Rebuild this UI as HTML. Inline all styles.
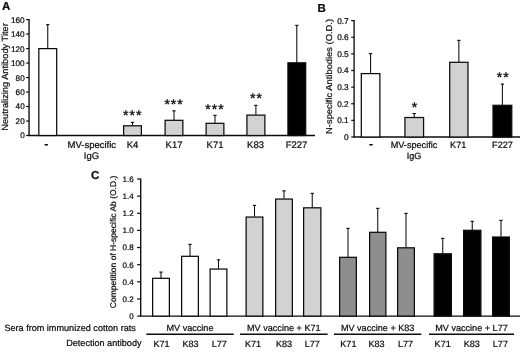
<!DOCTYPE html>
<html><head><meta charset="utf-8"><title>Figure</title>
<style>
html,body{margin:0;padding:0;background:#fff;}
body{width:520px;height:352px;overflow:hidden;font-family:"Liberation Sans",sans-serif;}
svg{display:block;will-change:transform;}
svg text{font-family:"Liberation Sans",sans-serif;fill:#0c0c0c;text-rendering:geometricPrecision;stroke:#0c0c0c;stroke-width:0.22px;}
svg text.st{stroke-width:0.4px;}
</style></head><body>
<svg width="520" height="352" viewBox="0 0 520 352">
<rect x="0" y="0" width="520" height="352" fill="#ffffff"/>
<line x1="29.05" y1="19.0" x2="29.05" y2="135.5" stroke="#0c0c0c" stroke-width="1.35"/>
<line x1="28.3" y1="135.5" x2="315" y2="135.5" stroke="#0c0c0c" stroke-width="1.35"/>
<line x1="26.150000000000002" y1="135.5" x2="29.05" y2="135.5" stroke="#0c0c0c" stroke-width="1.2"/>
<text x="24.7" y="138.45" text-anchor="end" font-size="8.2">0</text>
<line x1="26.150000000000002" y1="121.0125" x2="29.05" y2="121.0125" stroke="#0c0c0c" stroke-width="1.2"/>
<text x="24.7" y="123.9625" text-anchor="end" font-size="8.2">20</text>
<line x1="26.150000000000002" y1="106.525" x2="29.05" y2="106.525" stroke="#0c0c0c" stroke-width="1.2"/>
<text x="24.7" y="109.47500000000001" text-anchor="end" font-size="8.2">40</text>
<line x1="26.150000000000002" y1="92.0375" x2="29.05" y2="92.0375" stroke="#0c0c0c" stroke-width="1.2"/>
<text x="24.7" y="94.9875" text-anchor="end" font-size="8.2">60</text>
<line x1="26.150000000000002" y1="77.55" x2="29.05" y2="77.55" stroke="#0c0c0c" stroke-width="1.2"/>
<text x="24.7" y="80.5" text-anchor="end" font-size="8.2">80</text>
<line x1="26.150000000000002" y1="63.0625" x2="29.05" y2="63.0625" stroke="#0c0c0c" stroke-width="1.2"/>
<text x="24.7" y="66.0125" text-anchor="end" font-size="8.2">100</text>
<line x1="26.150000000000002" y1="48.57499999999999" x2="29.05" y2="48.57499999999999" stroke="#0c0c0c" stroke-width="1.2"/>
<text x="24.7" y="51.52499999999999" text-anchor="end" font-size="8.2">120</text>
<line x1="26.150000000000002" y1="34.08749999999999" x2="29.05" y2="34.08749999999999" stroke="#0c0c0c" stroke-width="1.2"/>
<text x="24.7" y="37.037499999999994" text-anchor="end" font-size="8.2">140</text>
<line x1="26.150000000000002" y1="19.599999999999994" x2="29.05" y2="19.599999999999994" stroke="#0c0c0c" stroke-width="1.2"/>
<text x="24.7" y="22.549999999999994" text-anchor="end" font-size="8.2">160</text>
<text x="7.6" y="77" text-anchor="middle" font-size="9.0" transform="rotate(-90 7.6 77)" textLength="107.5" lengthAdjust="spacingAndGlyphs">Neutralizing Antibody Titer</text>
<text x="1.9" y="10.4" text-anchor="start" font-size="11.5" font-weight="bold">A</text>
<line x1="47.75" y1="24.3" x2="47.75" y2="48.3" stroke="#0c0c0c" stroke-width="1.05"/>
<line x1="46.1" y1="24.650000000000002" x2="49.4" y2="24.650000000000002" stroke="#0c0c0c" stroke-width="1.1"/>
<rect x="38.83" y="48.61" width="17.85" height="86.89" fill="#fff" stroke="#0c0c0c" stroke-width="1.25"/>
<line x1="132.5" y1="122" x2="132.5" y2="125.5" stroke="#0c0c0c" stroke-width="1.05"/>
<line x1="130.85" y1="122.35" x2="134.15" y2="122.35" stroke="#0c0c0c" stroke-width="1.1"/>
<rect x="123.62" y="125.81" width="17.75" height="9.69" fill="#d2d2d2" stroke="#0c0c0c" stroke-width="1.25"/>
<line x1="174.0" y1="110.5" x2="174.0" y2="120" stroke="#0c0c0c" stroke-width="1.05"/>
<line x1="172.35" y1="110.85" x2="175.65" y2="110.85" stroke="#0c0c0c" stroke-width="1.1"/>
<rect x="165.12" y="120.31" width="17.75" height="15.19" fill="#d2d2d2" stroke="#0c0c0c" stroke-width="1.25"/>
<line x1="215.0" y1="115" x2="215.0" y2="123" stroke="#0c0c0c" stroke-width="1.05"/>
<line x1="213.35" y1="115.35" x2="216.65" y2="115.35" stroke="#0c0c0c" stroke-width="1.1"/>
<rect x="206.12" y="123.31" width="17.75" height="12.19" fill="#d2d2d2" stroke="#0c0c0c" stroke-width="1.25"/>
<line x1="255.9" y1="105" x2="255.9" y2="114.8" stroke="#0c0c0c" stroke-width="1.05"/>
<line x1="254.25" y1="105.35" x2="257.55" y2="105.35" stroke="#0c0c0c" stroke-width="1.1"/>
<rect x="246.93" y="115.11" width="17.95" height="20.39" fill="#d2d2d2" stroke="#0c0c0c" stroke-width="1.25"/>
<line x1="296.8" y1="25" x2="296.8" y2="62.5" stroke="#0c0c0c" stroke-width="1.05"/>
<line x1="295.15000000000003" y1="25.35" x2="298.45" y2="25.35" stroke="#0c0c0c" stroke-width="1.1"/>
<rect x="287.93" y="62.81" width="17.75" height="72.69" fill="#000" stroke="#0c0c0c" stroke-width="1.25"/>
<text x="132.82500000000002" y="120.1" text-anchor="middle" font-size="14.0" letter-spacing="1.05" class="st">***</text>
<text x="174.125" y="109.0" text-anchor="middle" font-size="14.0" letter-spacing="1.05" class="st">***</text>
<text x="215.025" y="113.9" text-anchor="middle" font-size="14.0" letter-spacing="1.05" class="st">***</text>
<text x="256.525" y="103.4" text-anchor="middle" font-size="14.0" letter-spacing="1.05" class="st">**</text>
<text x="46.4" y="147.9" text-anchor="middle" font-size="12.5" font-weight="bold">-</text>
<text x="91.8" y="148" text-anchor="middle" font-size="9.5">MV-specific</text>
<text x="91.5" y="158.5" text-anchor="middle" font-size="9.5">IgG</text>
<text x="132.5" y="148" text-anchor="middle" font-size="9.5">K4</text>
<text x="174" y="148" text-anchor="middle" font-size="9.5">K17</text>
<text x="215" y="148" text-anchor="middle" font-size="9.5">K71</text>
<text x="255.5" y="148" text-anchor="middle" font-size="9.5">K83</text>
<text x="296.5" y="148" text-anchor="middle" font-size="9.5">F227</text>
<line x1="354.1" y1="20.0" x2="354.1" y2="137.0" stroke="#0c0c0c" stroke-width="1.35"/>
<line x1="353.35" y1="137.0" x2="520" y2="137.0" stroke="#0c0c0c" stroke-width="1.35"/>
<line x1="351.20000000000005" y1="137.0" x2="354.1" y2="137.0" stroke="#0c0c0c" stroke-width="1.2"/>
<text x="348.7" y="140.0" text-anchor="end" font-size="8.3">0</text>
<line x1="351.20000000000005" y1="120.37142857142857" x2="354.1" y2="120.37142857142857" stroke="#0c0c0c" stroke-width="1.2"/>
<text x="348.7" y="123.37142857142857" text-anchor="end" font-size="8.3">0.1</text>
<line x1="351.20000000000005" y1="103.74285714285713" x2="354.1" y2="103.74285714285713" stroke="#0c0c0c" stroke-width="1.2"/>
<text x="348.7" y="106.74285714285713" text-anchor="end" font-size="8.3">0.2</text>
<line x1="351.20000000000005" y1="87.11428571428571" x2="354.1" y2="87.11428571428571" stroke="#0c0c0c" stroke-width="1.2"/>
<text x="348.7" y="90.11428571428571" text-anchor="end" font-size="8.3">0.3</text>
<line x1="351.20000000000005" y1="70.48571428571428" x2="354.1" y2="70.48571428571428" stroke="#0c0c0c" stroke-width="1.2"/>
<text x="348.7" y="73.48571428571428" text-anchor="end" font-size="8.3">0.4</text>
<line x1="351.20000000000005" y1="53.85714285714285" x2="354.1" y2="53.85714285714285" stroke="#0c0c0c" stroke-width="1.2"/>
<text x="348.7" y="56.85714285714285" text-anchor="end" font-size="8.3">0.5</text>
<line x1="351.20000000000005" y1="37.22857142857143" x2="354.1" y2="37.22857142857143" stroke="#0c0c0c" stroke-width="1.2"/>
<text x="348.7" y="40.22857142857143" text-anchor="end" font-size="8.3">0.6</text>
<line x1="351.20000000000005" y1="20.599999999999994" x2="354.1" y2="20.599999999999994" stroke="#0c0c0c" stroke-width="1.2"/>
<text x="348.7" y="23.599999999999994" text-anchor="end" font-size="8.3">0.7</text>
<text x="332.5" y="76.4" text-anchor="middle" font-size="8.6" transform="rotate(-90 332.5 76.4)" textLength="115" lengthAdjust="spacingAndGlyphs">N-specific Antibodies (O.D.)</text>
<text x="317.4" y="11.6" text-anchor="start" font-size="11.5" font-weight="bold">B</text>
<line x1="370.6" y1="53.3" x2="370.6" y2="73.3" stroke="#0c0c0c" stroke-width="1.05"/>
<line x1="368.95000000000005" y1="53.65" x2="372.25" y2="53.65" stroke="#0c0c0c" stroke-width="1.1"/>
<rect x="361.32" y="73.61" width="18.55" height="63.39" fill="#fff" stroke="#0c0c0c" stroke-width="1.25"/>
<line x1="414.25" y1="113.2" x2="414.25" y2="117.2" stroke="#0c0c0c" stroke-width="1.05"/>
<line x1="412.6" y1="113.55" x2="415.9" y2="113.55" stroke="#0c0c0c" stroke-width="1.1"/>
<rect x="404.93" y="117.51" width="18.65" height="19.49" fill="#d2d2d2" stroke="#0c0c0c" stroke-width="1.25"/>
<line x1="458.85" y1="40" x2="458.85" y2="62" stroke="#0c0c0c" stroke-width="1.05"/>
<line x1="457.20000000000005" y1="40.35" x2="460.5" y2="40.35" stroke="#0c0c0c" stroke-width="1.1"/>
<rect x="449.73" y="62.31" width="18.25" height="74.69" fill="#d2d2d2" stroke="#0c0c0c" stroke-width="1.25"/>
<line x1="502.4" y1="83.8" x2="502.4" y2="105" stroke="#0c0c0c" stroke-width="1.05"/>
<line x1="500.75" y1="84.14999999999999" x2="504.04999999999995" y2="84.14999999999999" stroke="#0c0c0c" stroke-width="1.1"/>
<rect x="493.02" y="105.31" width="18.75" height="31.69" fill="#000" stroke="#0c0c0c" stroke-width="1.25"/>
<text x="414.6" y="111.5" text-anchor="middle" font-size="14.0" class="st">*</text>
<text x="503.325" y="81.7" text-anchor="middle" font-size="14.0" letter-spacing="1.05" class="st">**</text>
<text x="371" y="148.20000000000002" text-anchor="middle" font-size="12.5" font-weight="bold">-</text>
<text x="414" y="148.3" text-anchor="middle" font-size="9.15">MV-specific</text>
<text x="414" y="158.8" text-anchor="middle" font-size="9.15">IgG</text>
<text x="458.2" y="148.3" text-anchor="middle" font-size="9.15">K71</text>
<text x="502.5" y="148.3" text-anchor="middle" font-size="9.15">F227</text>
<line x1="140.7" y1="178.4" x2="140.7" y2="316.1" stroke="#0c0c0c" stroke-width="1.35"/>
<line x1="139.95" y1="316.1" x2="520" y2="316.1" stroke="#0c0c0c" stroke-width="1.35"/>
<line x1="137.1" y1="316.1" x2="140.7" y2="316.1" stroke="#0c0c0c" stroke-width="1.2"/>
<text x="133.6" y="319.0" text-anchor="end" font-size="8.0">0</text>
<line x1="137.1" y1="298.96250000000003" x2="140.7" y2="298.96250000000003" stroke="#0c0c0c" stroke-width="1.2"/>
<text x="133.6" y="301.8625" text-anchor="end" font-size="8.0">0.2</text>
<line x1="137.1" y1="281.82500000000005" x2="140.7" y2="281.82500000000005" stroke="#0c0c0c" stroke-width="1.2"/>
<text x="133.6" y="284.725" text-anchor="end" font-size="8.0">0.4</text>
<line x1="137.1" y1="264.6875" x2="140.7" y2="264.6875" stroke="#0c0c0c" stroke-width="1.2"/>
<text x="133.6" y="267.5875" text-anchor="end" font-size="8.0">0.6</text>
<line x1="137.1" y1="247.55" x2="140.7" y2="247.55" stroke="#0c0c0c" stroke-width="1.2"/>
<text x="133.6" y="250.45000000000002" text-anchor="end" font-size="8.0">0.8</text>
<line x1="137.1" y1="230.41250000000002" x2="140.7" y2="230.41250000000002" stroke="#0c0c0c" stroke-width="1.2"/>
<text x="133.6" y="233.31250000000003" text-anchor="end" font-size="8.0">1.0</text>
<line x1="137.1" y1="213.275" x2="140.7" y2="213.275" stroke="#0c0c0c" stroke-width="1.2"/>
<text x="133.6" y="216.175" text-anchor="end" font-size="8.0">1.2</text>
<line x1="137.1" y1="196.1375" x2="140.7" y2="196.1375" stroke="#0c0c0c" stroke-width="1.2"/>
<text x="133.6" y="199.0375" text-anchor="end" font-size="8.0">1.4</text>
<line x1="137.1" y1="179.0" x2="140.7" y2="179.0" stroke="#0c0c0c" stroke-width="1.2"/>
<text x="133.6" y="181.9" text-anchor="end" font-size="8.0">1.6</text>
<text x="115.9" y="241.9" text-anchor="middle" font-size="8.3" transform="rotate(-90 115.9 241.9)" textLength="132.5" lengthAdjust="spacingAndGlyphs">Competition of H-specific Ab (O.D.)</text>
<text x="91" y="179.3" text-anchor="start" font-size="11.5" font-weight="bold">C</text>
<line x1="161.0" y1="271.75" x2="161.0" y2="278" stroke="#0c0c0c" stroke-width="1.05"/>
<line x1="159.35" y1="272.1" x2="162.65" y2="272.1" stroke="#0c0c0c" stroke-width="1.1"/>
<rect x="152.62" y="278.31" width="16.75" height="37.79" fill="#fff" stroke="#0c0c0c" stroke-width="1.25"/>
<line x1="190.0" y1="244" x2="190.0" y2="256" stroke="#0c0c0c" stroke-width="1.05"/>
<line x1="188.35" y1="244.35" x2="191.65" y2="244.35" stroke="#0c0c0c" stroke-width="1.1"/>
<rect x="181.62" y="256.31" width="16.75" height="59.79" fill="#fff" stroke="#0c0c0c" stroke-width="1.25"/>
<line x1="218.5" y1="259.5" x2="218.5" y2="268.75" stroke="#0c0c0c" stroke-width="1.05"/>
<line x1="216.85" y1="259.85" x2="220.15" y2="259.85" stroke="#0c0c0c" stroke-width="1.1"/>
<rect x="210.12" y="269.06" width="16.75" height="47.04" fill="#fff" stroke="#0c0c0c" stroke-width="1.25"/>
<line x1="254.5" y1="205" x2="254.5" y2="216.75" stroke="#0c0c0c" stroke-width="1.05"/>
<line x1="252.85" y1="205.35" x2="256.15" y2="205.35" stroke="#0c0c0c" stroke-width="1.1"/>
<rect x="246.12" y="217.06" width="16.75" height="99.04" fill="#d2d2d2" stroke="#0c0c0c" stroke-width="1.25"/>
<line x1="284.0" y1="190.5" x2="284.0" y2="198.75" stroke="#0c0c0c" stroke-width="1.05"/>
<line x1="282.35" y1="190.85" x2="285.65" y2="190.85" stroke="#0c0c0c" stroke-width="1.1"/>
<rect x="275.62" y="199.06" width="16.75" height="117.04" fill="#d2d2d2" stroke="#0c0c0c" stroke-width="1.25"/>
<line x1="312.25" y1="193" x2="312.25" y2="207.5" stroke="#0c0c0c" stroke-width="1.05"/>
<line x1="310.6" y1="193.35" x2="313.9" y2="193.35" stroke="#0c0c0c" stroke-width="1.1"/>
<rect x="303.62" y="207.81" width="17.25" height="108.29" fill="#d2d2d2" stroke="#0c0c0c" stroke-width="1.25"/>
<line x1="348.0" y1="228" x2="348.0" y2="257" stroke="#0c0c0c" stroke-width="1.05"/>
<line x1="346.35" y1="228.35" x2="349.65" y2="228.35" stroke="#0c0c0c" stroke-width="1.1"/>
<rect x="339.62" y="257.31" width="16.75" height="58.79" fill="#8e8e8e" stroke="#0c0c0c" stroke-width="1.25"/>
<line x1="377.75" y1="208" x2="377.75" y2="232" stroke="#0c0c0c" stroke-width="1.05"/>
<line x1="376.1" y1="208.35" x2="379.4" y2="208.35" stroke="#0c0c0c" stroke-width="1.1"/>
<rect x="369.62" y="232.31" width="16.25" height="83.79" fill="#8e8e8e" stroke="#0c0c0c" stroke-width="1.25"/>
<line x1="406.0" y1="213" x2="406.0" y2="247.5" stroke="#0c0c0c" stroke-width="1.05"/>
<line x1="404.35" y1="213.35" x2="407.65" y2="213.35" stroke="#0c0c0c" stroke-width="1.1"/>
<rect x="397.62" y="247.81" width="16.75" height="68.29" fill="#8e8e8e" stroke="#0c0c0c" stroke-width="1.25"/>
<line x1="442.75" y1="238" x2="442.75" y2="253.5" stroke="#0c0c0c" stroke-width="1.05"/>
<line x1="441.1" y1="238.35" x2="444.4" y2="238.35" stroke="#0c0c0c" stroke-width="1.1"/>
<rect x="434.12" y="253.81" width="17.25" height="62.29" fill="#000" stroke="#0c0c0c" stroke-width="1.25"/>
<line x1="472.25" y1="221" x2="472.25" y2="230" stroke="#0c0c0c" stroke-width="1.05"/>
<line x1="470.6" y1="221.35" x2="473.9" y2="221.35" stroke="#0c0c0c" stroke-width="1.1"/>
<rect x="463.62" y="230.31" width="17.25" height="85.79" fill="#000" stroke="#0c0c0c" stroke-width="1.25"/>
<line x1="501.0" y1="220" x2="501.0" y2="236.7" stroke="#0c0c0c" stroke-width="1.05"/>
<line x1="499.35" y1="220.35" x2="502.65" y2="220.35" stroke="#0c0c0c" stroke-width="1.1"/>
<rect x="492.62" y="237.01" width="16.75" height="79.09" fill="#000" stroke="#0c0c0c" stroke-width="1.25"/>
<text x="135.8" y="330.7" text-anchor="end" font-size="9.1">Sera from immunized cotton rats</text>
<text x="141.5" y="346.3" text-anchor="end" font-size="9.1">Detection antibody</text>
<text x="190.0" y="330.6" text-anchor="middle" font-size="9.1">MV vaccine</text>
<line x1="146.3" y1="334.3" x2="233.7" y2="334.3" stroke="#0c0c0c" stroke-width="1.4"/>
<text x="161.6" y="346.7" text-anchor="middle" font-size="9.1">K71</text>
<text x="190.5" y="346.7" text-anchor="middle" font-size="9.1">K83</text>
<text x="219.3" y="346.7" text-anchor="middle" font-size="9.1">L77</text>
<text x="283.8" y="330.6" text-anchor="middle" font-size="9.1">MV vaccine + K71</text>
<line x1="240" y1="334.3" x2="327.6" y2="334.3" stroke="#0c0c0c" stroke-width="1.4"/>
<text x="253" y="346.7" text-anchor="middle" font-size="9.1">K71</text>
<text x="284" y="346.7" text-anchor="middle" font-size="9.1">K83</text>
<text x="312.3" y="346.7" text-anchor="middle" font-size="9.1">L77</text>
<text x="377.65" y="330.6" text-anchor="middle" font-size="9.1">MV vaccine + K83</text>
<line x1="334" y1="334.3" x2="421.3" y2="334.3" stroke="#0c0c0c" stroke-width="1.4"/>
<text x="348.4" y="346.7" text-anchor="middle" font-size="9.1">K71</text>
<text x="376.6" y="346.7" text-anchor="middle" font-size="9.1">K83</text>
<text x="405.5" y="346.7" text-anchor="middle" font-size="9.1">L77</text>
<text x="471.5" y="330.6" text-anchor="middle" font-size="9.1">MV vaccine + L77</text>
<line x1="429" y1="334.3" x2="514" y2="334.3" stroke="#0c0c0c" stroke-width="1.4"/>
<text x="442.7" y="346.7" text-anchor="middle" font-size="9.1">K71</text>
<text x="471.8" y="346.7" text-anchor="middle" font-size="9.1">K83</text>
<text x="500.4" y="346.7" text-anchor="middle" font-size="9.1">L77</text>
</svg>
</body></html>
